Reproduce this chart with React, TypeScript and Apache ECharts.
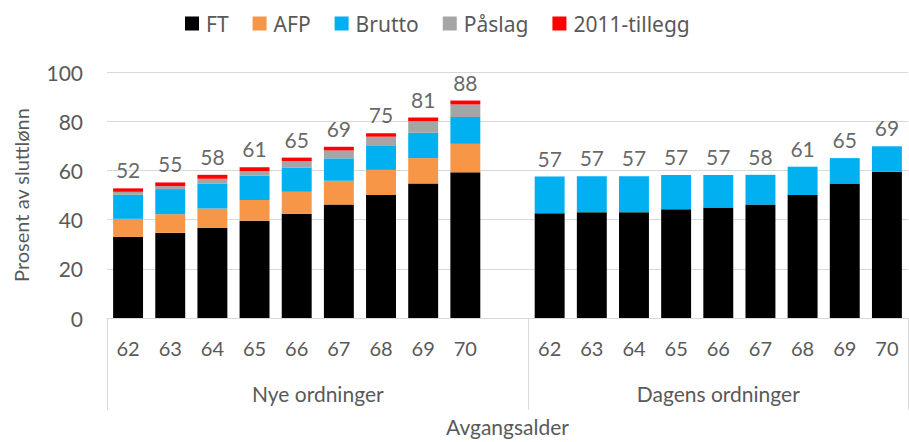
import React, { useEffect, useRef } from "react";
import * as echarts from "echarts";

const categories = ["62", "63", "64", "65", "66", "67", "68", "69", "70", "", "62", "63", "64", "65", "66", "67", "68", "69", "70"];
const groups = ["Nye ordninger", "Dagens ordninger"];
const ft = [33, 34.6, 36.6, 39.5, 42.3, 46.1, 50, 54.7, 59.2, null, 42.6, 43, 43, 44.2, 44.9, 46.1, 50, 54.7, 59.4];
const afp = [7.3, 7.6, 7.9, 8.5, 9, 9.7, 10.2, 10.3, 11.6, null, null, null, null, null, null, null, null, null, null];
const brutto = [9.8, 10.2, 10.2, 9.8, 9.9, 9.1, 10, 10.3, 10.9, null, 14.9, 14.6, 14.6, 13.9, 13.2, 12.1, 11.5, 10.3, 10.4];
const paslag = [1.2, 1.2, 1.9, 2, 2.6, 3.2, 3.5, 4.7, 5.1, null, null, null, null, null, null, null, null, null, null];
const tillegg = [1.4, 1.5, 1.6, 1.5, 1.4, 1.5, 1.4, 1.5, 1.6, null, null, null, null, null, null, null, null, null, null];
const totalLabels = ["52", "55", "58", "61", "65", "69", "75", "81", "88", "", "57", "57", "57", "57", "57", "58", "61", "65", "69"];
const yTicks = [0, 20, 40, 60, 80, 100];

const FONT = "Lato";
const TEXT = "#595959";

export default function App() {
  const ref = useRef<HTMLDivElement>(null);
  useEffect(() => {
    if (!ref.current) return;
    const chart = echarts.init(ref.current, undefined, { renderer: "svg" });
    const seriesDefs = [
      { name: "FT", data: ft, color: "#000000" },
      { name: "AFP", data: afp, color: "#F79646" },
      { name: "Brutto", data: brutto, color: "#00B0F0" },
      { name: "Påslag", data: paslag, color: "#A5A5A5" },
      { name: "2011-tillegg", data: tillegg, color: "#FF0000" },
    ];
    const totals = categories.map((_, i) =>
      seriesDefs.reduce((s, d) => s + ((d.data[i] as number) || 0), 0)
    );
    const labelPoints = totals
      .map((t, i) => (totalLabels[i] ? [i, t] : null))
      .filter((p) => p !== null);
    chart.setOption({
      animation: false,
      textStyle: { fontFamily: FONT },
      legend: {
        data: seriesDefs.map((d) => d.name),
        left: 180,
        top: 8,
        icon: "rect",
        itemWidth: 14,
        itemHeight: 14,
        itemGap: 24,
        textStyle: { fontFamily: "Noto Sans", fontSize: 21, color: TEXT, padding: [0, 0, 0, 2] },
      },
      grid: { left: 107, right: 1, top: 72, bottom: 122, containLabel: false },
      xAxis: [
        {
          type: "category",
          data: categories,
          axisTick: { show: false },
          axisLine: { lineStyle: { color: "#D9D9D9", width: 1 } },
          axisLabel: { interval: 0, color: TEXT, fontSize: 20, fontFamily: FONT, margin: 20 },
        },
        {
          type: "value",
          min: 0,
          max: categories.length,
          position: "bottom",
          axisLine: { show: false },
          splitLine: { show: false },
          axisTick: {
            show: true,
            customValues: [0, 10, categories.length],
            length: 92,
            lineStyle: { color: "#D9D9D9", width: 1 },
          },
          axisLabel: {
            customValues: [5, 14.5],
            formatter: (v: number) => (v < 10 ? groups[0] : groups[1]),
            color: TEXT,
            fontSize: 21,
            fontFamily: FONT,
            margin: 65,
          },
          name: "Avgangsalder",
          nameLocation: "middle",
          nameGap: 98,
          nameTextStyle: { color: TEXT, fontSize: 21, fontFamily: FONT },
        },
      ],
      yAxis: {
        type: "value",
        min: 0,
        max: 100,
        interval: 20,
        axisLine: { show: false },
        axisTick: { show: false },
        splitLine: { lineStyle: { color: "#D9D9D9", width: 1 } },
        axisLabel: {
          color: TEXT,
          fontSize: 21,
          fontFamily: FONT,
          margin: 24,
          customValues: yTicks,
        },
        name: "Prosent av sluttlønn",
        nameLocation: "middle",
        nameGap: 76,
        nameRotate: 90,
        nameTextStyle: { color: TEXT, fontSize: 20, fontFamily: FONT },
      },
      series: [
        ...seriesDefs.map((d) => ({
          name: d.name,
          type: "bar",
          stack: "total",
          data: d.data,
          barCategoryGap: "29%",
          itemStyle: { color: d.color },
          xAxisIndex: 0,
        })),
        {
          name: "labels",
          type: "scatter",
          xAxisIndex: 0,
          data: labelPoints,
          symbolSize: 0,
          silent: true,
          label: {
            show: true,
            position: "top",
            distance: 8,
            color: "#404040",
            fontSize: 21,
            fontFamily: FONT,
            formatter: (p: any) => totalLabels[p.value[0]],
          },
        },
      ],
    });
    return () => chart.dispose();
  }, []);
  return (
    <div
      ref={ref}
      style={{ position: "fixed", left: 0, top: 0, width: 909, height: 442, background: "#fff" }}
    />
  );
}
